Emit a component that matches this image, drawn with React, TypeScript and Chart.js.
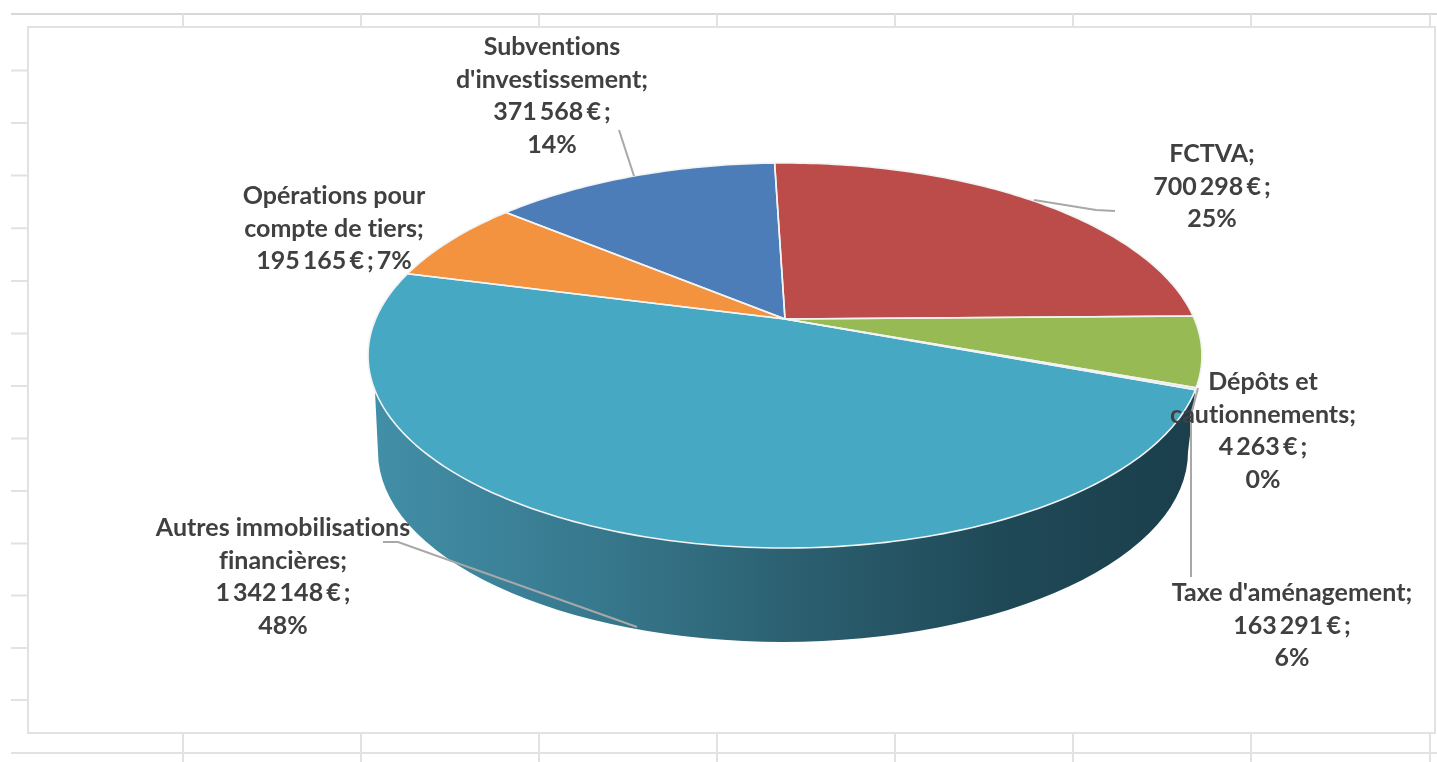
import { useEffect, useRef } from "react";
import { Chart, registerables } from "chart.js";

Chart.register(...registerables);

// Receipts by category, in euros, in pie order (clockwise).
const categories = [
  "Subventions d'investissement",
  "FCTVA",
  "Taxe d'aménagement",
  "Dépôts et cautionnements",
  "Autres immobilisations financières",
  "Opérations pour compte de tiers",
];
const amounts = [371568, 700298, 163291, 4263, 1342148, 195165];
const percentLabels = ["14%", "25%", "6%", "0%", "48%", "7%"];
const sliceColors = ["#4c7db9", "#bc4c4a", "#98ba55", "#8064a2", "#47a8c4", "#f39340"];
const startRotationDeg = -49.9;

// How each category's name wraps in its text block.
const nameLines = [
  ["Subventions", "d'investissement;"],
  ["FCTVA;"],
  ["Taxe d'aménagement;"],
  ["Dépôts et", "cautionnements;"],
  ["Autres immobilisations", "financières;"],
  ["Opérations pour", "compte de tiers;"],
];
const labelCenters = [
  { x: 552, y: 47 },
  { x: 1212, y: 154 },
  { x: 1292, y: 593 },
  { x: 1263, y: 382 },
  { x: 283, y: 528 },
  { x: 334, y: 196 },
];
// The percentage stays on the amount's line for this category.
const inlinePercent = [false, false, false, false, false, true];

const leaderLines = [
  [[619, 130], [634, 176]],
  [[1115, 211], [1096, 210], [1034, 200]],
  [[1198, 388], [1191, 415], [1191, 577]],
  [[383, 542], [398, 542], [637, 627]],
];

const sheetColumns = [183, 361, 539, 717, 895, 1073, 1251, 1430];
const sheetRows = [70.5, 123, 175.6, 228.2, 281, 333.5, 386, 438.5, 491, 543.5, 595.5, 648, 700];

// Projection of the unit disc onto the tilted top face of the pie.
const APEX = { x: 785, y: 319 };
const SCALE_X = 409.4;
const SCALE_Y = 185.6;
const TILT = -0.1896;
// Lower rim of the pie's side wall.
const BASE = { x: 783, y: 452, rx: 405, ry: 190 };
const WALL_TOP_Y = 388;
const LINE_GAP = 32.7;

function formatAmount(value: number) {
  return String(value).replace(/\B(?=(\d{3})+$)/g, " ") + " € ;";
}

function project(angle: number) {
  const u = Math.cos(angle);
  const v = Math.sin(angle);
  const w = 1 + TILT * v;
  return { x: APEX.x + (SCALE_X * u) / w, y: APEX.y + (SCALE_Y * v) / w };
}

function rimPoints(start: number, end: number) {
  const steps = Math.max(2, Math.ceil(((end - start) * 180) / Math.PI));
  const pts = [];
  for (let i = 0; i <= steps; i++) pts.push(project(start + ((end - start) * i) / steps));
  return pts;
}

const tiltedPie = {
  id: "tiltedPie",
  beforeDraw(chart: Chart) {
    const { ctx, width, height } = chart;
    ctx.save();
    ctx.fillStyle = "#ffffff";
    ctx.fillRect(0, 0, width, height);
    ctx.lineWidth = 2;
    ctx.strokeStyle = "#d8d8d8";
    ctx.beginPath();
    ctx.moveTo(11, 14);
    ctx.lineTo(width, 14);
    ctx.stroke();
    ctx.strokeStyle = "#e2e2e2";
    ctx.beginPath();
    ctx.moveTo(11, 753);
    ctx.lineTo(width, 753);
    for (const x of sheetColumns) {
      ctx.moveTo(x, 14);
      ctx.lineTo(x, 27);
      ctx.moveTo(x, 733);
      ctx.lineTo(x, height);
    }
    for (const y of sheetRows) {
      ctx.moveTo(11, y);
      ctx.lineTo(28, y);
    }
    ctx.stroke();
    ctx.fillStyle = "#ffffff";
    ctx.fillRect(28, 27, 1407, 706);
    ctx.strokeRect(28, 27, 1407, 706);
    ctx.restore();
  },
  // Replaces the flat circular arcs by their tilted projection.
  beforeDatasetsDraw(chart: Chart) {
    const { ctx } = chart;
    const arcs = chart.getDatasetMeta(0).data as any[];
    ctx.save();

    // Side wall under the front of the large slice.
    const front = arcs[4];
    const wallRim = rimPoints(front.startAngle, front.endAngle).filter((p) => p.y >= WALL_TOP_Y);
    const wallFill = ctx.createLinearGradient(372, 0, 1190, 0);
    wallFill.addColorStop(0, "#428fa8");
    wallFill.addColorStop(0.28, "#37788d");
    wallFill.addColorStop(0.5, "#2c6172");
    wallFill.addColorStop(0.78, "#1f4856");
    wallFill.addColorStop(1, "#1b3f4c");
    ctx.beginPath();
    wallRim.forEach((p, i) => (i ? ctx.lineTo(p.x, p.y) : ctx.moveTo(p.x, p.y)));
    ctx.lineTo(BASE.x - BASE.rx, BASE.y);
    ctx.ellipse(BASE.x, BASE.y, BASE.rx, BASE.ry, 0, Math.PI, 0, true);
    ctx.closePath();
    ctx.fillStyle = wallFill;
    ctx.fill();

    // Top face, one wedge per value.
    arcs.forEach((arc, i) => {
      ctx.beginPath();
      ctx.moveTo(APEX.x, APEX.y);
      rimPoints(arc.startAngle, arc.endAngle).forEach((p) => ctx.lineTo(p.x, p.y));
      ctx.closePath();
      ctx.fillStyle = sliceColors[i];
      ctx.fill();
    });
    arcs.forEach((arc) => {
      ctx.beginPath();
      ctx.moveTo(APEX.x, APEX.y);
      rimPoints(arc.startAngle, arc.endAngle).forEach((p) => ctx.lineTo(p.x, p.y));
      ctx.closePath();
      ctx.strokeStyle = "#f2f4f4";
      ctx.lineWidth = 1.6;
      ctx.lineJoin = "round";
      ctx.stroke();
    });
    ctx.restore();
    return false;
  },
  afterDraw(chart: Chart) {
    const { ctx } = chart;
    ctx.save();
    ctx.strokeStyle = "#a8a8a8";
    ctx.lineWidth = 2;
    for (const line of leaderLines) {
      ctx.beginPath();
      line.forEach(([x, y], i) => (i ? ctx.lineTo(x, y) : ctx.moveTo(x, y)));
      ctx.stroke();
    }
    ctx.fillStyle = "#404040";
    ctx.font = 'bold 25px Lato, "Open Sans", sans-serif';
    ctx.textAlign = "center";
    ctx.textBaseline = "middle";
    (ctx as any).letterSpacing = "0.01px";
    categories.forEach((_, i) => {
      const { x, y } = labelCenters[i];
      const amount = formatAmount(amounts[i]);
      const valueLines = inlinePercent[i]
        ? [`${amount} ${percentLabels[i]}`]
        : [amount, percentLabels[i]];
      nameLines[i].forEach((text, row) => {
        (ctx as any).wordSpacing = "0px";
        ctx.fillText(text, x, y + row * LINE_GAP);
      });
      valueLines.forEach((text, row) => {
        // Figures and their separators set tighter than the names.
        (ctx as any).wordSpacing = "-3px";
        ctx.fillText(text, x, y + (nameLines[i].length + row) * LINE_GAP);
      });
    });
    ctx.restore();
  },
};

export default function App() {
  const canvasRef = useRef<HTMLCanvasElement>(null);

  useEffect(() => {
    const chart = new Chart(canvasRef.current!, {
      type: "pie",
      data: {
        labels: categories,
        datasets: [{ data: amounts, backgroundColor: sliceColors }],
      },
      options: {
        responsive: false,
        animation: false,
        rotation: startRotationDeg,
        plugins: { legend: { display: false }, tooltip: { enabled: false } },
      },
      plugins: [tiltedPie],
    });
    return () => chart.destroy();
  }, []);

  return (
    <div style={{ position: "fixed", left: 0, top: 0 }}>
      <canvas ref={canvasRef} width={1437} height={762} style={{ display: "block" }} />
    </div>
  );
}
